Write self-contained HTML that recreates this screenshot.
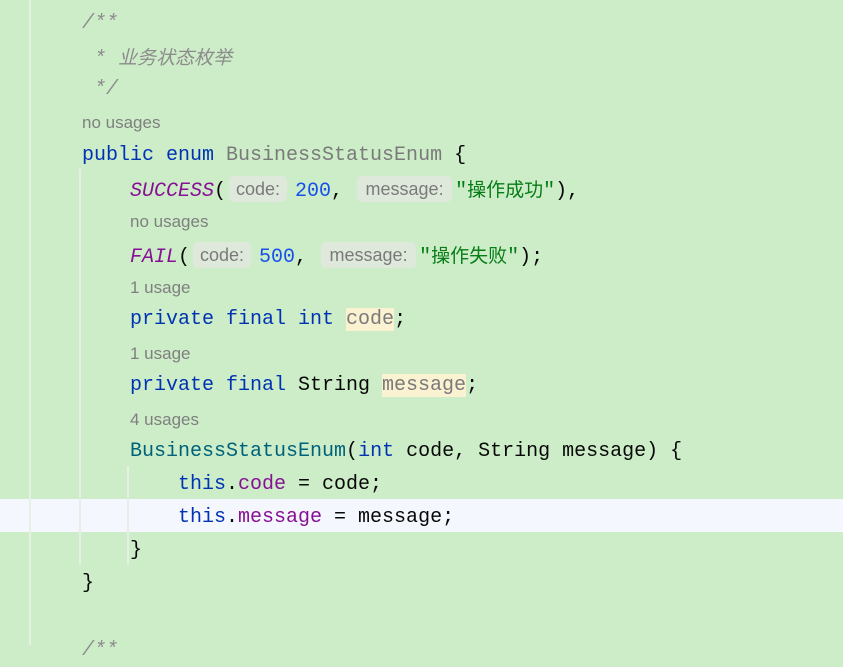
<!DOCTYPE html>
<html><head><meta charset="utf-8"><style>
body{margin:0;width:843px;height:645px;background:#cdedc8;overflow:hidden;position:relative;font-family:"Liberation Mono","Noto Sans CJK SC",monospace;font-size:20px;color:#080808}
.l{position:absolute;height:33px;line-height:33px;white-space:pre}
.u{font-family:"Liberation Sans",sans-serif;font-size:17px;color:#7f7f7f}
.c{color:#8c8c8c;font-style:italic}
.k{color:#0033b3}
.g{color:#7a7a7a}
.p{color:#871094}
.pi{color:#871094;font-style:italic}
.n{color:#1750eb}
.s{color:#067d17}
.s i{font-style:normal;font-family:"Noto Sans CJK SC",sans-serif;font-size:19px}
.f{color:#00627a}
.h{display:inline-block;background:#dfe9db;border-radius:5px;font-family:"Liberation Sans",sans-serif;font-size:18px;color:#7a7a7a;line-height:26px;text-align:center;vertical-align:1px}
.hc{width:58px;margin:0 8px 0 3px}
.hm{width:95px;margin:0 3px 0 2px}
.v{position:absolute;width:2px;background:#e8eee6}
.hl{background:#fbf2d2}
</style></head><body>
<div style="position:absolute;left:0;top:499px;width:843px;height:33px;background:#f4f7fd"></div>
<div class="v" style="left:29px;top:0;height:645px;background:#e6f0e3"></div>
<div class="v" style="left:79px;top:169px;height:396px"></div>
<div class="v" style="left:127px;top:466px;height:99px"></div>
<div class="l c" style="left:82px;top:7px">/**</div>
<div class="l c" style="left:82px;top:40px"> * <span style="font-family:'Noto Sans CJK SC',sans-serif;font-size:19px">业务状态枚举</span></div>
<div class="l c" style="left:82px;top:73px"> */</div>
<div class="l u" style="left:82px;top:106px">no usages</div>
<div class="l" style="left:82px;top:139px"><span class="k">public enum </span><span class="g">BusinessStatusEnum</span> {</div>
<div class="l" style="left:130px;top:172px"><span class="pi">SUCCESS</span>(<span class="h hc">code:</span><span class="n">200</span>,<span class="h hm" style="margin-left:14px">message:</span><span class="s">"<i>操作成功</i>"</span>),</div>
<div class="l u" style="left:130px;top:205px">no usages</div>
<div class="l" style="left:130px;top:238px"><span class="pi">FAIL</span>(<span class="h hc">code:</span><span class="n">500</span>,<span class="h hm" style="margin-left:14px">message:</span><span class="s">"<i>操作失败</i>"</span>);</div>
<div class="l u" style="left:130px;top:271px">1 usage</div>
<div class="l" style="left:130px;top:303px"><span class="k">private final int </span><span class="g hl">code</span>;</div>
<div class="l u" style="left:130px;top:337px">1 usage</div>
<div class="l" style="left:130px;top:369px"><span class="k">private final </span>String <span class="g hl">message</span>;</div>
<div class="l u" style="left:130px;top:403px">4 usages</div>
<div class="l" style="left:130px;top:435px"><span class="f">BusinessStatusEnum</span>(<span class="k">int</span> code, String message) {</div>
<div class="l" style="left:178px;top:468px"><span class="k">this</span>.<span class="p">code</span> = code;</div>
<div class="l" style="left:178px;top:501px"><span class="k">this</span>.<span class="p">message</span> = message;</div>
<div class="l" style="left:130px;top:534px">}</div>
<div class="l" style="left:82px;top:567px">}</div>
<div class="l c" style="left:82px;top:634px">/**</div>
</body></html>
